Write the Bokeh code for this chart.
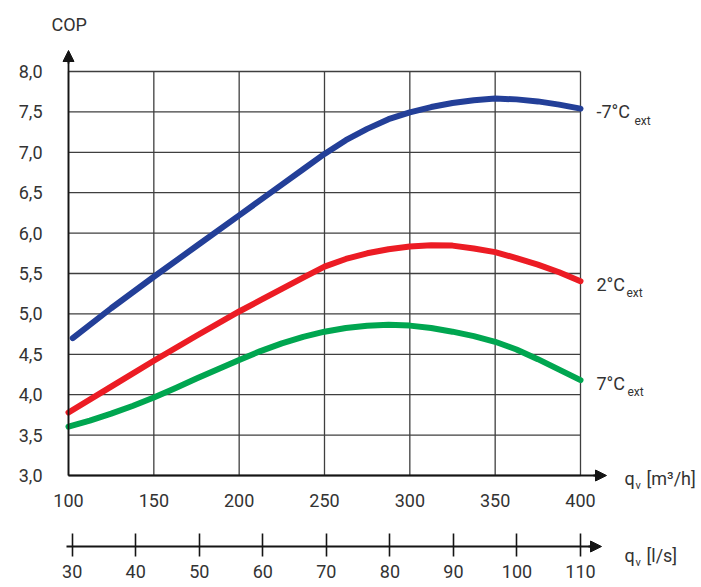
from bokeh.plotting import figure
from bokeh.models import Range1d, LinearAxis, FixedTicker, Arrow, NormalHead, CustomJSTickFormatter
from bokeh.core.properties import value
from bokeh.embed import file_html
from bokeh.resources import INLINE

# ---------------- data ----------------
x_ticks = [100, 150, 200, 250, 300, 350, 400]          # q_v [m3/h]
y_ticks = [3.0, 3.5, 4.0, 4.5, 5.0, 5.5, 6.0, 6.5, 7.0, 7.5, 8.0]  # COP
ls_ticks = [30, 40, 50, 60, 70, 80, 90, 100, 110]       # q_v [l/s]

flow_m7 = [102.5, 125, 150, 175, 200, 225, 237.5, 250, 262.5, 275, 287.5, 300,
           312.5, 325, 337.5, 350, 362.5, 375, 387.5, 400]
cop_m7 = [4.70, 5.07, 5.46, 5.84, 6.22, 6.60, 6.79, 6.98, 7.15, 7.29, 7.41, 7.495,
          7.56, 7.61, 7.645, 7.665, 7.655, 7.63, 7.59, 7.54]

flow_2 = [100, 125, 150, 175, 200, 212.5, 225, 237.5, 250, 262.5, 275, 287.5, 300,
          312.5, 325, 337.5, 350, 362.5, 375, 387.5, 400]
cop_2 = [3.78, 4.10, 4.42, 4.73, 5.03, 5.17, 5.31, 5.45, 5.585, 5.68, 5.75, 5.80, 5.835,
         5.85, 5.845, 5.81, 5.765, 5.69, 5.61, 5.515, 5.405]

flow_7 = [100, 112.5, 125, 137.5, 150, 162.5, 175, 187.5, 200, 212.5, 225, 237.5, 250,
          262.5, 275, 287.5, 300, 312.5, 325, 337.5, 350, 362.5, 375, 387.5, 400]
cop_7 = [3.605, 3.68, 3.765, 3.86, 3.965, 4.08, 4.20, 4.315, 4.43, 4.54, 4.635, 4.715, 4.78,
         4.825, 4.852, 4.865, 4.855, 4.825, 4.78, 4.725, 4.655, 4.56, 4.44, 4.31, 4.18]

series_labels = ["-7°C", "2°C", "7°C"]
series_sub = ["ext", "ext", "ext"]
series_colors = ["#233f98", "#ec1c24", "#00a650"]

# ---------------- layout (pixels on canvas) ----------------
W, H = 701, 587
PX_XA, PX_XB = 68.0, 580.0     # x_ticks[0], x_ticks[-1]
PX_YA, PX_YB = 475.0, 71.0     # y_ticks[0], y_ticks[-1]
PX_LA, PX_LB = 71.7, 580.0     # ls_ticks[0], ls_ticks[-1]
PY_LS = 546.0                  # l/s axis line

kx = (PX_XB - PX_XA) / (x_ticks[-1] - x_ticks[0])
ky = (PX_YA - PX_YB) / (y_ticks[-1] - y_ticks[0])
kl = (PX_LB - PX_LA) / (ls_ticks[-1] - ls_ticks[0])


def xd(px):
    return x_ticks[0] + (px - PX_XA) / kx


def yd(py):
    return y_ticks[0] + (PX_YA - py) / ky


def ld(px):
    return ls_ticks[0] + (px - PX_LA) / kl


FONT = "Roboto"
TXT = "#333333"
AX = "#151515"
GRID = "#3f3f3f"

p = figure(width=W, height=H,
           x_range=Range1d(xd(0), xd(W)), y_range=Range1d(yd(H), yd(0)),
           x_axis_type=None, y_axis_type=None,
           min_border=0, toolbar_location=None, output_backend="svg",
           outline_line_color=None)
p.extra_x_ranges = {"ls": Range1d(ld(0), ld(W))}

# grid
p.segment(x0=[x_ticks[0]] * len(y_ticks), y0=y_ticks,
          x1=[x_ticks[-1]] * len(y_ticks), y1=y_ticks,
          line_color=GRID, line_width=1.3)
p.segment(x0=x_ticks, y0=[y_ticks[0]] * len(x_ticks),
          x1=x_ticks, y1=[y_ticks[-1]] * len(x_ticks),
          line_color=GRID, line_width=1.3)

# curves
for xs, ys, c in [(flow_m7, cop_m7, series_colors[0]),
                  (flow_2, cop_2, series_colors[1]),
                  (flow_7, cop_7, series_colors[2])]:
    p.line(xs, ys, line_color=c, line_width=6, line_cap="round", line_join="round")

# axes
common = dict(major_tick_in=0, major_tick_out=0, minor_tick_in=0, minor_tick_out=0,
              major_label_text_font=FONT, major_label_text_font_size="18px",
              major_label_text_color=TXT, axis_line_width=1.8, axis_line_color=AX)

xa = LinearAxis(fixed_location=y_ticks[0], bounds=(x_ticks[0], xd(596)),
                ticker=FixedTicker(ticks=x_ticks, minor_ticks=[]),
                major_label_standoff=18, **common)
p.add_layout(xa, "below")

ya = LinearAxis(fixed_location=x_ticks[0], bounds=(y_ticks[0], yd(60)),
                ticker=FixedTicker(ticks=y_ticks, minor_ticks=[]),
                formatter=CustomJSTickFormatter(code="return tick.toFixed(1).replace('.', ',')"),
                major_label_standoff=26, **common)
p.add_layout(ya, "left")

ls_common = dict(common)
ls_common.update(major_tick_in=13, major_tick_out=10)
la = LinearAxis(x_range_name="ls", fixed_location=yd(PY_LS), bounds=(ld(66), ld(592)),
                ticker=FixedTicker(ticks=ls_ticks, minor_ticks=[]),
                major_tick_line_width=1.6, major_tick_line_color=AX,
                major_label_standoff=8, **ls_common)
p.add_layout(la, "below")


# arrow heads
def head():
    return NormalHead(size=11, fill_color=AX, line_color=AX, line_width=1)


p.add_layout(Arrow(end=head(), x_start=xd(593), y_start=y_ticks[0], x_end=xd(606), y_end=y_ticks[0],
                   line_color=AX, line_width=1.8))
p.add_layout(Arrow(end=head(), x_start=x_ticks[0], y_start=yd(63), x_end=x_ticks[0], y_end=yd(50),
                   line_color=AX, line_width=1.8))
p.add_layout(Arrow(end=head(), x_start=xd(588), y_start=yd(PY_LS), x_end=xd(601), y_end=yd(PY_LS),
                   line_color=AX, line_width=1.8))

# texts
txt = dict(text_font=value(FONT), text_color=TXT)
p.text(x=[xd(51)], y=[yd(24)], text=["COP"], text_font_size="18px",
       text_baseline="middle", text_align="left", **txt)

ends = [cop_m7[-1], cop_2[-1], cop_7[-1]]
p.text(x=[x_ticks[-1]] * 3, y=ends, text=series_labels, x_offset=16, y_offset=3,
       text_font_size="18px", text_baseline="middle", text_align="left", **txt)
p.text(x=[x_ticks[-1]] * 3, y=ends, text=series_sub, x_offset=[54, 46, 47], y_offset=12,
       text_font_size="12px", text_baseline="middle", text_align="left", **txt)

# axis titles
p.text(x=[xd(624), xd(624)], y=[yd(478), yd(555)], text=["q", "q"], text_font_size="18px",
       text_baseline="alphabetic", text_align="left", **txt)
p.text(x=[xd(635), xd(635)], y=[yd(485), yd(562)], text=["v", "v"], text_font_size="11px",
       text_baseline="alphabetic", text_align="left", **txt)
p.text(x=[xd(646), xd(646)], y=[yd(478), yd(555)], text=["[m³/h]", "[l/s]"], text_font_size="18px",
       text_baseline="alphabetic", text_align="left", **txt)

open("out.html", "w").write(file_html(p, INLINE))
